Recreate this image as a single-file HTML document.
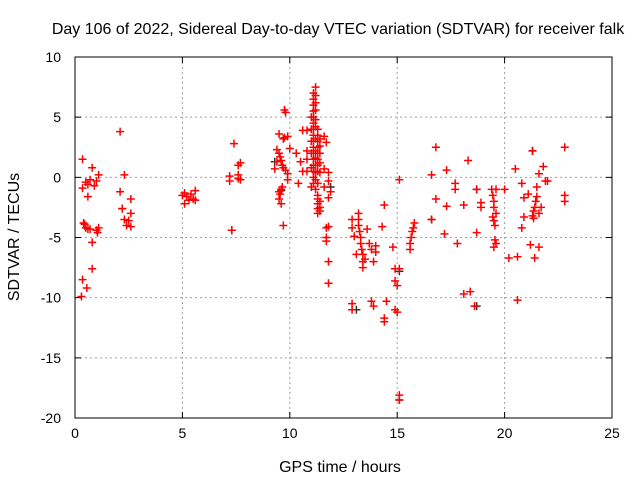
<!DOCTYPE html>
<html><head><meta charset="utf-8"><style>
body{margin:0;background:#fff;}
svg{display:block;font-family:"Liberation Sans",sans-serif;}
</style></head><body>
<svg id="c" width="640" height="480">
<text x="338" y="34" text-anchor="middle" font-size="16">Day 106 of 2022, Sidereal Day-to-day VTEC variation (SDTVAR) for receiver falk</text>
<text x="340" y="472" text-anchor="middle" font-size="16">GPS time / hours</text>
<text transform="translate(19,237) rotate(-90)" text-anchor="middle" font-size="16">SDTVAR / TECUs</text>
<g id="grid"></g><g id="ticks"></g><g id="black"></g><g id="red"></g>
<rect x="75" y="57" width="537" height="361" fill="none" stroke="#000"/>
</svg>
<script>
const xTicks=[0,5,10,15,20,25];
const yTicks=[10,5,0,-5,-10,-15,-20];
const redHours=[0.35,0.35,0.4,0.5,0.5,0.6,0.6,0.7,0.7,0.8,0.8,0.8,0.9,1.0,1.0,1.05,0.3,0.35,0.55,0.45,0.6,1.1,1.1,
2.1,2.1,2.2,2.3,2.3,2.4,2.6,2.6,2.6,2.5,
5.0,5.1,5.2,5.3,5.4,5.5,5.6,5.6,5.1,
7.2,7.2,7.3,7.4,7.6,7.6,7.7,7.6,7.7,
9.3,9.4,9.4,9.5,9.55,9.6,9.65,9.7,9.8,9.5,9.7,9.75,9.8,9.75,9.5,9.5,9.55,9.6,9.65,9.6,9.7,9.9,9.9,9.9,10.0,
10.3,10.4,10.5,10.6,10.6,
11.1,11.1,11.1,11.1,11.1,11.1,11.1,11.1,11.1,11.1,11.1,11.1,11.1,11.1,11.1,11.1,
11.2,11.2,11.2,11.2,11.2,11.2,11.2,11.2,11.2,11.2,11.2,11.2,11.2,
11.3,11.3,11.3,11.3,11.3,11.3,11.3,11.3,11.3,11.3,11.3,11.3,11.3,11.3,
11.4,11.4,11.4,11.4,11.4,11.4,11.4,11.4,
11.0,11.0,11.0,11.0,11.0,11.0,10.8,10.8,10.8,10.8,11.6,11.6,11.6,11.7,11.7,11.7,11.7,
11.8,11.8,11.8,11.8,11.8,11.8,11.9,
12.9,12.9,12.9,12.9,13.0,13.1,13.2,13.2,13.2,13.25,13.3,13.3,13.35,13.4,13.4,13.5,13.4,13.6,13.7,13.8,13.9,13.8,13.9,14.0,14.0,14.4,14.3,14.4,14.5,14.4,14.8,14.9,14.9,15.0,14.9,15.0,15.1,15.1,15.1,15.1,
15.6,15.65,15.7,15.75,15.8,15.6,
16.6,16.6,16.8,16.8,17.2,17.3,17.3,17.7,17.7,17.8,18.1,18.3,18.4,18.6,18.1,18.7,18.7,18.9,18.9,
19.4,19.45,19.5,19.5,19.45,19.5,19.55,19.6,19.5,19.55,19.6,19.6,
20.0,20.2,20.5,20.6,20.6,20.8,20.8,20.9,20.9,21.1,21.2,21.3,21.3,21.35,21.4,21.45,21.5,21.35,21.5,21.6,21.6,21.7,21.8,21.9,22.0,21.4,21.6,22.8,22.8,22.8];
const redValues=[1.5,-0.9,-3.8,-4.2,-0.4,-0.6,-1.6,-4.3,-0.2,0.8,-5.4,-7.6,-0.7,-4.4,-0.3,-4.6,-9.9,-8.5,-9.2,-3.9,-4.3,0.2,-4.2,
3.8,-1.2,-2.6,0.2,-3.5,-4.0,-1.8,-3.0,-4.1,-3.6,
-1.5,-2.2,-1.6,-1.9,-1.4,-1.8,-1.1,-1.9,-1.3,
0.1,-0.3,-4.4,2.8,1.0,-0.1,1.2,0.2,-0.2,
0.7,1.3,2.3,2.0,1.7,1.4,1.0,0.8,0.6,3.6,3.2,5.6,5.4,3.3,-1.2,-1.8,-1.4,-1.0,-0.8,-2.2,-4.0,0.3,-0.2,3.4,2.4,
2.0,-0.5,1.3,3.9,0.5,
7.0,6.5,6.0,5.5,5.0,4.5,4.0,3.5,3.0,2.5,2.0,1.5,1.0,0.5,0,-0.5,
7.5,6.8,6.2,5.6,4.8,4.2,3.2,2.2,1.6,1.0,0.4,-0.2,-1.0,
4.0,3.5,3.0,2.5,2.0,1.5,1.0,0.5,-0.5,-1.5,-1.8,-2.2,-2.6,-3.0,
3.2,2.6,2.0,1.2,0.4,-2.0,-2.5,-2.8,
5.0,4.0,3.0,2.0,0.8,-0.8,3.9,2.2,1.5,0.5,3.4,0.7,-0.8,2.9,-4.2,-5.3,-5.0,
0.4,-0.3,-1.7,-4.1,-7.0,-8.8,-1.2,
-10.5,-11.0,-3.5,-4.2,-4.9,-6.4,-3.0,-3.5,-4.0,-4.5,-5.0,-5.5,-6.0,-6.4,-7.0,-6.8,-7.5,-4.3,-5.5,-10.3,-10.7,-6.0,-7.0,-5.7,-6.2,-2.3,-4.1,-11.7,-10.3,-12.0,-5.8,-7.6,-8.6,-9.0,-11.0,-11.2,-7.6,-0.2,-18.1,-18.5,
-5.5,-5.0,-4.5,-4.2,-3.8,-6.0,
-3.5,0.2,2.5,-1.8,-4.7,0.6,-2.4,-0.5,-1.0,-5.5,-2.3,1.4,-9.5,-10.7,-9.7,-1.0,-4.6,-2.1,-2.5,
-1.0,-1.5,-2.0,-2.5,-3.3,-3.6,-4.0,-5.5,-5.8,-5.2,-1.0,-3.0,
-1.0,-6.7,0.7,-10.2,-6.6,-0.5,-4.2,-3.3,-1.7,-1.4,-5.6,2.2,-3.2,-2.8,-2.5,-2.0,-1.6,-3.4,-0.8,0.3,-5.8,-2.5,0.9,-0.3,-0.3,-6.7,-3.0,2.5,-1.5,-2.0];
const blackHours=[2.2,7.3,9.3,11.9,13.1,15.1,16.6,18.7,21.3,15.1,18.7,9.6];
const blackValues=[-2.6,-4.4,1.3,-0.8,-11.0,-18.5,-3.5,-10.7,2.2,-7.8,-1.0,-1.1];
const L=75,R=612,T=57,B=418;
function sx(v){return L+(v-0)/25*(R-L);}
function sy(v){return T+(10-v)/30*(B-T);}
const NS="http://www.w3.org/2000/svg";
function mk(tag,attrs,parent){const e=document.createElementNS(NS,tag);for(const k in attrs)e.setAttribute(k,attrs[k]);document.getElementById(parent).appendChild(e);return e;}
xTicks.forEach(t=>{const x=sx(t);
if(t>0&&t<25){const g=mk('line',{x1:x,y1:T,x2:x,y2:B,stroke:'#a0a0a0','stroke-dasharray':'2,3'},'grid');

}
const tk=mk('path',{d:`M${x},${B}v-6M${x},${T}v6`,stroke:'#000'},'ticks');


const tl=mk('text',{x:x,y:B+20,'text-anchor':'middle','font-size':14},'ticks');tl.textContent=t;

});
yTicks.forEach(t=>{const y=sy(t);
if(t<10&&t>-20){const g=mk('line',{x1:L,y1:y,x2:R,y2:y,stroke:'#a0a0a0','stroke-dasharray':'2,3'},'grid');

}
const tk=mk('path',{d:`M${L},${y}h6M${R},${y}h-6`,stroke:'#000'},'ticks');


const tl=mk('text',{x:L-14,y:y+5,'text-anchor':'end','font-size':14},'ticks');tl.textContent=t;

});
function plus(h,v,col,g,name){const x=sx(h),y=sy(v);
const p=mk('path',{d:`M${x-4},${y}h8M${x},${y-4}v8`,stroke:col,'stroke-width':1.5},g);

}
blackHours.forEach((h,i)=>plus(h,blackValues[i],'#303030','black','black-point'));
redHours.forEach((h,i)=>plus(h,redValues[i],'#ff0000','red','red-point'));
</script>
</body></html>
